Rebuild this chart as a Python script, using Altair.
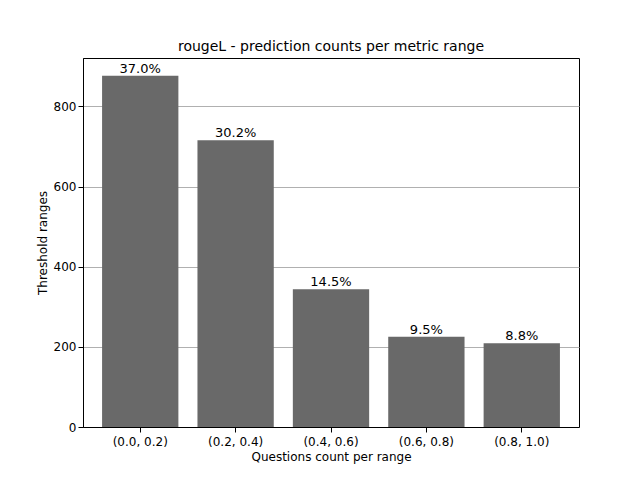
import altair as alt
import pandas as pd

ranges = ["(0.0, 0.2)", "(0.2, 0.4)", "(0.4, 0.6)", "(0.6, 0.8)", "(0.8, 1.0)"]
counts = [877, 716, 344, 225, 209]
labels = ["37.0%", "30.2%", "14.5%", "9.5%", "8.8%"]

df = pd.DataFrame({"range": ranges, "count": counts, "label": labels})

x = alt.X("range:N", sort=ranges, title="Questions count per range",
          scale=alt.Scale(paddingInner=0.2, paddingOuter=0.2),
          axis=alt.Axis(labelAngle=0, grid=False, tickColor="black", domainColor="black",
                        labelColor="black", titleColor="black", labelFontSize=12, titleFontSize=12,
                        titleFontWeight="normal", labelPadding=4, titlePadding=4))
y = alt.Y("count:Q", title="Threshold ranges",
          scale=alt.Scale(domain=[0, 921], nice=False),
          axis=alt.Axis(values=[0, 200, 400, 600, 800], grid=True, gridColor="#b0b0b0",
                        tickColor="black", domainColor="black", labelColor="black",
                        titleColor="black", labelFontSize=12, titleFontSize=12,
                        titleFontWeight="normal"))

bars = alt.Chart(df).mark_bar(color="#696969").encode(x=x, y=y)
text = alt.Chart(df).mark_text(dy=-7, fontSize=13, color="black", font="DejaVu Sans").encode(
    x=alt.X("range:N", sort=ranges), y="count:Q", text="label:N")

chart = (bars + text).properties(
    width=496, height=369,
    padding={"left": 28, "top": 32, "right": 5, "bottom": 5},
    title=alt.Title("rougeL - prediction counts per metric range", fontSize=14,
                    fontWeight="normal", font="DejaVu Sans", color="black")
).configure(font="DejaVu Sans").configure_view(stroke="black", strokeWidth=1)

chart.save("out.html", embed_options={"renderer": "svg", "actions": False})
